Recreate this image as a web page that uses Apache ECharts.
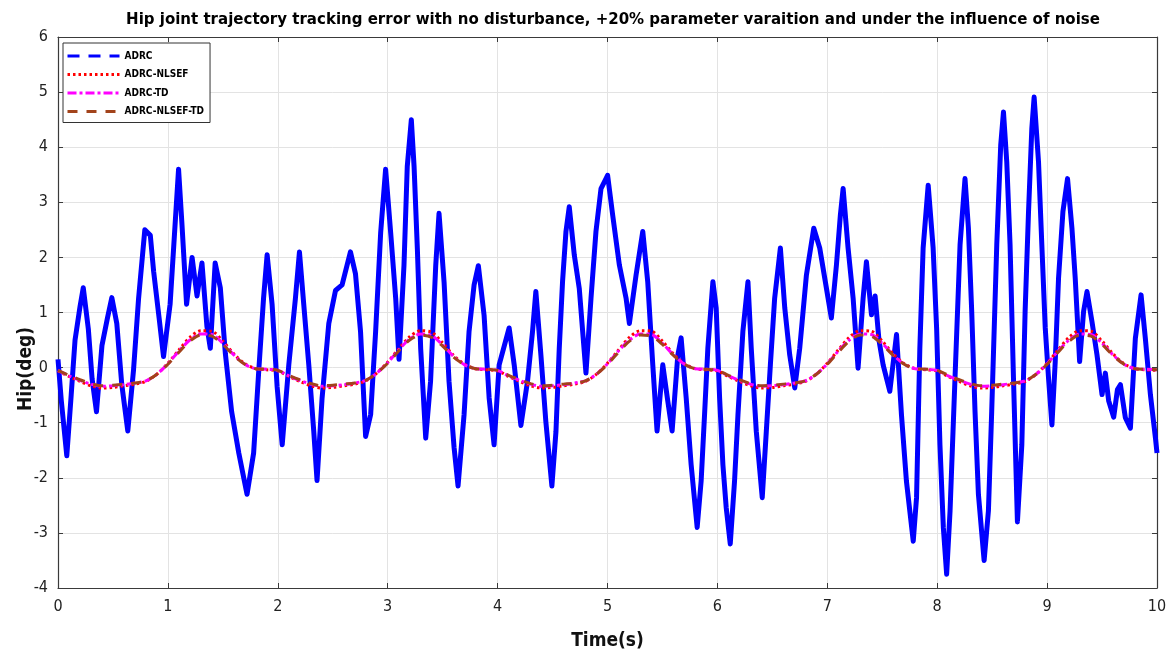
<!DOCTYPE html>
<html>
<head>
<meta charset="utf-8">
<title>Hip joint trajectory tracking error</title>
<script src="https://cdn.jsdelivr.net/npm/echarts@6/dist/echarts.min.js"></script>
<style>
  html, body { margin: 0; padding: 0; background: #ffffff; }
  #chart { width: 1171px; height: 656px; }
</style>
</head>
<body>
<div id="chart"></div>
<script>
// Hip tracking error (deg) over time (s)
const titleText = 'Hip joint trajectory tracking error with no disturbance, +20% parameter varaition and under the influence of noise';
const yAxisTitle = 'Hip(deg)';
const xAxisTitle = 'Time(s)';
const seriesNames = ['ADRC', 'ADRC-NLSEF', 'ADRC-TD', 'ADRC-NLSEF-TD'];
const xTicks = [0, 1, 2, 3, 4, 5, 6, 7, 8, 9, 10];
const yTicks = [-4, -3, -2, -1, 0, 1, 2, 3, 4, 5, 6];

// ADRC: noisy error, [time, error] at its turning points
const adrc = [
  [0,0.15],[0.03,-0.6],[0.08,-1.6],[0.12,-0.5],[0.155,0.5],[0.2,1.1],[0.23,1.45],[0.276,0.7],[0.31,-0.2],[0.35,-0.8],
  [0.4,0.4],[0.45,0.9],[0.49,1.27],[0.535,0.8],[0.58,-0.3],[0.635,-1.15],[0.687,-0.05],[0.733,1.25],[0.79,2.5],[0.84,2.4],
  [0.87,1.75],[0.92,0.9],[0.96,0.2],[1.02,1.15],[1.067,2.65],[1.097,3.6],[1.128,2.6],[1.17,1.15],[1.22,2.0],[1.265,1.3],
  [1.31,1.9],[1.355,0.75],[1.386,0.35],[1.43,1.9],[1.477,1.45],[1.523,0.25],[1.58,-0.8],[1.645,-1.55],[1.72,-2.3],[1.78,-1.55],
  [1.827,-0.05],[1.87,1.25],[1.903,2.05],[1.948,1.15],[1.994,-0.35],[2.04,-1.4],[2.1,0.05],[2.16,1.25],[2.197,2.1],[2.236,1.15],
  [2.282,0.05],[2.327,-1.15],[2.357,-2.05],[2.403,-0.55],[2.464,0.8],[2.525,1.4],[2.585,1.5],[2.661,2.1],[2.707,1.7],[2.753,0.65],
  [2.799,-1.25],[2.845,-0.85],[2.89,0.65],[2.936,2.45],[2.981,3.6],[3.027,2.45],[3.073,1.25],[3.103,0.15],[3.148,1.85],[3.178,3.65],
  [3.215,4.5],[3.24,3.65],[3.27,2.15],[3.3,0.35],[3.346,-1.28],[3.39,-0.25],[3.437,1.85],[3.467,2.8],[3.513,1.55],[3.558,-0.25],
  [3.604,-1.45],[3.64,-2.15],[3.695,-0.85],[3.74,0.65],[3.786,1.5],[3.825,1.85],[3.877,0.95],[3.923,-0.55],[3.968,-1.4],[4.014,0.05],
  [4.105,0.72],[4.151,0.05],[4.212,-1.05],[4.272,-0.25],[4.318,0.66],[4.348,1.38],[4.394,0.23],[4.439,-0.98],[4.494,-2.15],[4.531,-1.16],
  [4.561,0.35],[4.591,1.56],[4.622,2.47],[4.652,2.92],[4.698,2.04],[4.743,1.44],[4.804,-0.1],[4.85,1.26],[4.895,2.47],[4.941,3.25],
  [5.001,3.49],[5.047,2.77],[5.108,1.86],[5.169,1.26],[5.199,0.8],[5.26,1.68],[5.321,2.47],[5.366,1.56],[5.412,0.05],[5.451,-1.15],
  [5.503,0.05],[5.548,-0.6],[5.588,-1.15],[5.64,0.23],[5.67,0.54],[5.716,-0.55],[5.761,-1.76],[5.816,-2.9],[5.852,-2.06],[5.883,-0.86],
  [5.913,0.35],[5.959,1.56],[5.989,1.08],[6.02,-0.55],[6.05,-1.76],[6.08,-2.54],[6.117,-3.2],[6.156,-2.06],[6.187,-0.86],[6.232,0.66],
  [6.278,1.56],[6.308,0.35],[6.354,-1.16],[6.408,-2.36],[6.445,-1.16],[6.482,0.05],[6.521,1.26],[6.573,2.17],[6.613,1.08],[6.658,0.23],
  [6.704,-0.37],[6.749,0.35],[6.81,1.68],[6.877,2.53],[6.931,2.17],[6.992,1.44],[7.037,0.9],[7.083,1.86],[7.119,2.77],[7.144,3.25],
  [7.189,2.17],[7.235,1.26],[7.28,-0.01],[7.326,1.26],[7.356,1.92],[7.402,0.96],[7.435,1.3],[7.47,0.5],[7.508,0.05],[7.569,-0.43],
  [7.63,0.6],[7.675,-0.86],[7.72,-2.06],[7.782,-3.15],[7.812,-2.36],[7.842,0.35],[7.872,2.17],[7.918,3.31],[7.963,2.17],[7.995,0.7],
  [8.025,-1.4],[8.056,-2.91],[8.086,-3.75],[8.117,-2.6],[8.162,-0.19],[8.208,2.23],[8.253,3.43],[8.284,2.53],[8.314,1.02],[8.344,-0.79],
  [8.375,-2.3],[8.427,-3.5],[8.466,-2.6],[8.496,-0.79],[8.542,2.23],[8.578,4.04],[8.603,4.64],[8.633,3.73],[8.663,2.23],[8.694,-0.19],
  [8.73,-2.8],[8.77,-1.4],[8.8,1.02],[8.831,2.83],[8.861,4.34],[8.882,4.91],[8.922,3.73],[8.952,2.23],[8.983,0.72],[9.013,-0.19],
  [9.044,-1.04],[9.074,0.11],[9.104,1.62],[9.144,2.83],[9.186,3.43],[9.226,2.53],[9.256,1.62],[9.296,0.11],[9.332,1.02],[9.363,1.38],
  [9.408,0.84],[9.454,0.23],[9.5,-0.49],[9.53,-0.1],[9.56,-0.6],[9.606,-0.9],[9.64,-0.4],[9.667,-0.31],[9.712,-0.91],[9.758,-1.1],
  [9.803,0.53],[9.855,1.32],[9.894,0.53],[9.94,-0.49],[9.986,-1.28],[10,-1.55]
];

// Smooth controllers, sampled every 0.1 s from 0 to 10 s
const smoothTime = [
  0.0,0.1,0.2,0.3,0.4,0.5,0.6,0.7,0.8,0.9,1.0,1.1,1.2,1.3,1.4,1.5,1.6,1.7,1.8,1.9,
  2.0,2.1,2.2,2.3,2.4,2.5,2.6,2.7,2.8,2.9,3.0,3.1,3.2,3.3,3.4,3.5,3.6,3.7,3.8,3.9,
  4.0,4.1,4.2,4.3,4.4,4.5,4.6,4.7,4.8,4.9,5.0,5.1,5.2,5.3,5.4,5.5,5.6,5.7,5.8,5.9,
  6.0,6.1,6.2,6.3,6.4,6.5,6.6,6.7,6.8,6.9,7.0,7.1,7.2,7.3,7.4,7.5,7.6,7.7,7.8,7.9,
  8.0,8.1,8.2,8.3,8.4,8.5,8.6,8.7,8.8,8.9,9.0,9.1,9.2,9.3,9.4,9.5,9.6,9.7,9.8,9.9,10.0
];
const nlsef = [
  -0.06,-0.16,-0.25,-0.33,-0.37,-0.36,-0.33,-0.30,-0.25,-0.12,0.08,0.32,0.55,0.67,0.66,0.48,0.25,0.07,-0.02,-0.04,
  -0.06,-0.16,-0.25,-0.33,-0.37,-0.36,-0.33,-0.30,-0.24,-0.10,0.10,0.34,0.56,0.67,0.64,0.45,0.22,0.06,-0.02,-0.04,
  -0.06,-0.16,-0.25,-0.33,-0.37,-0.36,-0.33,-0.30,-0.25,-0.12,0.08,0.32,0.55,0.67,0.66,0.48,0.25,0.07,-0.02,-0.04,
  -0.06,-0.16,-0.25,-0.33,-0.37,-0.36,-0.33,-0.30,-0.25,-0.12,0.08,0.32,0.55,0.67,0.66,0.48,0.25,0.07,-0.02,-0.04,
  -0.06,-0.16,-0.25,-0.33,-0.37,-0.36,-0.33,-0.30,-0.25,-0.12,0.08,0.32,0.55,0.67,0.66,0.48,0.25,0.07,-0.02,-0.04,-0.05
];
const td = [
  -0.05,-0.15,-0.23,-0.30,-0.34,-0.33,-0.31,-0.28,-0.24,-0.12,0.07,0.30,0.50,0.61,0.60,0.44,0.23,0.06,-0.02,-0.03,
  -0.05,-0.15,-0.23,-0.30,-0.34,-0.33,-0.31,-0.28,-0.23,-0.10,0.09,0.32,0.52,0.61,0.58,0.41,0.20,0.05,-0.02,-0.03,
  -0.05,-0.15,-0.23,-0.30,-0.34,-0.33,-0.31,-0.28,-0.24,-0.12,0.07,0.30,0.50,0.61,0.60,0.44,0.23,0.06,-0.02,-0.03,
  -0.05,-0.15,-0.23,-0.30,-0.34,-0.33,-0.31,-0.28,-0.24,-0.12,0.07,0.30,0.50,0.61,0.60,0.44,0.23,0.06,-0.02,-0.03,
  -0.05,-0.15,-0.23,-0.30,-0.34,-0.33,-0.31,-0.28,-0.24,-0.12,0.07,0.30,0.50,0.61,0.60,0.44,0.23,0.06,-0.02,-0.03,-0.04
];
const nlsefTd = [
  -0.05,-0.14,-0.22,-0.29,-0.33,-0.32,-0.30,-0.28,-0.24,-0.12,0.06,0.28,0.48,0.59,0.57,0.42,0.22,0.06,-0.02,-0.03,
  -0.05,-0.14,-0.22,-0.29,-0.33,-0.32,-0.30,-0.28,-0.23,-0.10,0.08,0.30,0.50,0.59,0.55,0.39,0.19,0.05,-0.02,-0.03,
  -0.05,-0.14,-0.22,-0.29,-0.33,-0.32,-0.30,-0.28,-0.24,-0.12,0.06,0.28,0.48,0.59,0.57,0.42,0.22,0.06,-0.02,-0.03,
  -0.05,-0.14,-0.22,-0.29,-0.33,-0.32,-0.30,-0.28,-0.24,-0.12,0.06,0.28,0.48,0.59,0.57,0.42,0.22,0.06,-0.02,-0.03,
  -0.05,-0.14,-0.22,-0.29,-0.33,-0.32,-0.30,-0.28,-0.24,-0.12,0.06,0.28,0.48,0.59,0.57,0.42,0.22,0.06,-0.02,-0.03,-0.04
];

const FONT = '"DejaVu Sans Condensed", "Liberation Sans", sans-serif';
const pair = (ys) => smoothTime.map((t, i) => [t, ys[i]]);

// line looks shared by each series and its legend entry
const looks = [
  { color: '#0000ff', type: [12, 9] },
  { color: '#ff0000', type: [2.5, 3] },
  { color: '#ff00ff', type: [9, 3, 3, 3] },
  { color: '#a2431b', type: [10, 9] }
];

const chart = echarts.init(document.getElementById('chart'), null, { renderer: 'canvas' });

const gridLine = { show: true, lineStyle: { color: '#e3e3e3', width: 1 } };
const frame = { show: true, onZero: false, lineStyle: { color: '#3a3a3a', width: 1.2 } };
const inTick = { show: true, inside: true, length: 5, lineStyle: { color: '#3a3a3a', width: 1 } };

chart.setOption({
  animation: false,
  backgroundColor: '#ffffff',
  title: {
    text: titleText,
    left: 608,
    textAlign: 'center',
    top: 6,
    textStyle: { fontFamily: FONT, fontWeight: 'bold', fontSize: 16.7, color: '#000' }
  },
  legend: {
    left: 63,
    top: 43,
    orient: 'vertical',
    backgroundColor: '#ffffff',
    borderColor: '#333333',
    borderWidth: 1,
    borderRadius: 0,
    padding: [8, 6, 6, 3],
    itemWidth: 52,
    itemHeight: 12,
    itemGap: 8.5,
    itemStyle: { opacity: 0 },
    textStyle: { fontFamily: FONT, fontWeight: 'bold', fontSize: 10, color: '#000' },
    data: seriesNames.map((name, i) => ({
      name: name,
      lineStyle: { color: looks[i].color, type: looks[i].type, width: 3 }
    }))
  },
  grid: { left: 58, right: 14, top: 37, bottom: 66, containLabel: false },
  xAxis: [
    {
      type: 'value', min: xTicks[0], max: xTicks[xTicks.length - 1], interval: 1,
      name: xAxisTitle, nameLocation: 'middle', nameGap: 44,
      nameTextStyle: { fontFamily: FONT, fontWeight: 'bold', fontSize: 19, color: '#111' },
      axisLine: frame, axisTick: inTick, splitLine: gridLine,
      axisLabel: { margin: 11, fontFamily: FONT, fontSize: 16, color: '#222' }
    },
    {
      type: 'value', position: 'top', min: xTicks[0], max: xTicks[xTicks.length - 1], interval: 1,
      axisLine: frame, axisTick: inTick, splitLine: { show: false }, axisLabel: { show: false }
    }
  ],
  yAxis: [
    {
      type: 'value', min: yTicks[0], max: yTicks[yTicks.length - 1], interval: 1,
      axisLine: frame, axisTick: inTick, splitLine: gridLine,
      axisLabel: { margin: 10, fontFamily: FONT, fontSize: 16, color: '#222' }
    },
    {
      type: 'value', position: 'right', min: yTicks[0], max: yTicks[yTicks.length - 1], interval: 1,
      axisLine: frame, axisTick: inTick, splitLine: { show: false }, axisLabel: { show: false }
    }
  ],
  graphic: [
    {
      type: 'text', x: 26, y: 369, rotation: Math.PI / 2,
      style: {
        text: yAxisTitle, align: 'center', verticalAlign: 'middle',
        font: 'bold 19px ' + FONT, fill: '#111'
      }
    }
  ],
  series: [
    {
      name: seriesNames[0], type: 'line', data: adrc, symbol: 'none',
      lineStyle: { color: looks[0].color, width: 5, join: 'round' }, itemStyle: { color: looks[0].color }, z: 2
    },
    {
      name: seriesNames[1], type: 'line', data: pair(nlsef), symbol: 'none', smooth: 0.3,
      lineStyle: { color: looks[1].color, width: 3, type: looks[1].type }, itemStyle: { color: looks[1].color }, z: 3
    },
    {
      name: seriesNames[2], type: 'line', data: pair(td), symbol: 'none', smooth: 0.3,
      lineStyle: { color: looks[2].color, width: 3, type: looks[2].type }, itemStyle: { color: looks[2].color }, z: 4
    },
    {
      name: seriesNames[3], type: 'line', data: pair(nlsefTd), symbol: 'none', smooth: 0.3,
      lineStyle: { color: looks[3].color, width: 3, type: looks[3].type }, itemStyle: { color: looks[3].color }, z: 5
    }
  ]
});
</script>
</body>
</html>
